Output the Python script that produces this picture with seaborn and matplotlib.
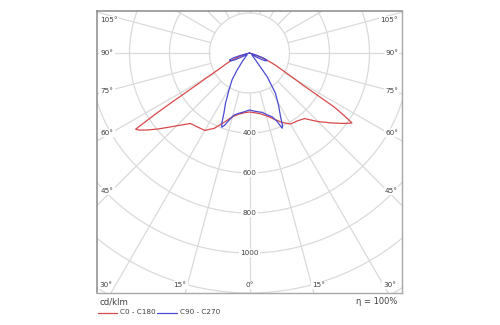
import numpy as np
import pandas as pd
import matplotlib
matplotlib.use("Agg")
import matplotlib.pyplot as plt
from matplotlib.patches import Circle
import seaborn as sns

# Luminous intensity (cd/klm) against gamma angle (degrees from nadir)
gamma_c0 = [0, 5, 10, 15, 20, 25, 30, 35, 40, 45, 50, 53, 55, 55.7, 56.5, 57.5, 59, 60, 62.5, 65, 67.5, 70, 72.5, 75, 90]
cd_c0 = [295, 300, 308, 325, 350, 383, 410, 415, 428, 485, 545, 585, 612, 620, 570, 500, 310, 265, 185, 140, 98, 60, 25, 0, 0]

gamma_c180 = [0, 5, 10, 15, 20, 25, 30, 35, 40, 45, 50, 53, 55, 56.2, 57, 57.5, 58, 59, 60, 62.5, 65, 67.5, 70, 72.5, 75, 90]
cd_c180 = [295, 300, 311, 330, 368, 415, 447, 452, 460, 515, 590, 640, 672, 685, 560, 475, 400, 300, 250, 165, 130, 100, 60, 25, 0, 0]

gamma_c90 = [0, 5, 10, 12, 16, 19.5, 22, 23.5, 24.5, 26, 29, 32.8, 36.7, 40.6, 45, 50, 55, 58, 60, 62, 64, 66, 68, 70, 72, 75, 90]
cd_c90 = [285, 292, 300, 303, 322, 338, 370, 410, 398, 354, 300, 240, 148, 46, 25, 18, 15, 18, 40, 70, 88, 95, 92, 75, 35, 0, 0]

gamma_c270 = [0, 5, 10, 14, 17, 19, 20.5, 21.5, 23, 25.5, 29, 33, 36, 40, 45, 50, 55, 60, 63, 65, 67, 69, 71, 73, 75, 78, 90]
cd_c270 = [285, 295, 306, 320, 352, 382, 396, 378, 328, 279, 212, 160, 105, 57, 30, 18, 15, 20, 45, 80, 100, 106, 104, 85, 45, 0, 0]

plane_labels = ["C0 - C180", "C90 - C270"]
plane_colors = ["#d8494b", "#4a4ad0"]
ring_values = [400, 600, 800, 1000]
side_angle_labels = ["105°", "90°", "75°", "60°", "45°"]
bottom_angle_labels = ["30°", "15°", "0°", "15°", "30°"]


def half_plane_xy(gamma, cd, side):
    g = np.radians(np.asarray(gamma, dtype=float))
    r = np.asarray(cd, dtype=float)
    return side * r * np.sin(g), -r * np.cos(g)


rows = []
pairs = [(gamma_c180, cd_c180, gamma_c0, cd_c0), (gamma_c270, cd_c270, gamma_c90, cd_c90)]
for label, (gl, cl, gr, cr) in zip(plane_labels, pairs):
    xl, yl = half_plane_xy(gl, cl, -1)
    xr, yr = half_plane_xy(gr, cr, 1)
    xs = np.concatenate([xl[::-1], xr])
    ys = np.concatenate([yl[::-1], yr])
    for i, (x, y) in enumerate(zip(xs, ys)):
        rows.append({"plane": label, "order": i, "x": x, "y": y})
df = pd.DataFrame(rows)

sns.set_theme(style="white")
plt.rcParams["font.family"] = ["DejaVu Sans"]

W, H = 500, 325
fig = plt.figure(figsize=(W / 100, H / 100), dpi=100)
fig.patch.set_facecolor("white")

# plot frame in pixels
left_px, right_px, top_px, bottom_px = 96.7, 401.7, 11.0, 292.7
cx_px, cy_px = 249.5, 53.0
scale = 5.0  # cd/klm per pixel

ax = fig.add_axes([left_px / W, 1 - bottom_px / H, (right_px - left_px) / W, (bottom_px - top_px) / H])
ax.set_xlim((left_px - cx_px) * scale, (right_px - cx_px) * scale)
ax.set_ylim(-(bottom_px - cy_px) * scale, (cy_px - top_px) * scale)
ax.set_xticks([])
ax.set_yticks([])

grid_c = "#dadada"
for r in range(200, 2401, 200):
    ax.add_patch(Circle((0, 0), r, fill=False, ec=grid_c, lw=0.9, zorder=1))
for a in range(0, 360, 15):
    t = np.radians(a)
    ax.plot([200 * np.sin(t), 4000 * np.sin(t)], [-200 * np.cos(t), -4000 * np.cos(t)],
            color=grid_c, lw=0.9, zorder=1)

sns.lineplot(data=df, x="x", y="y", hue="plane", palette=plane_colors, hue_order=plane_labels,
             sort=False, estimator=None, units="plane", legend=False, lw=0.9, ax=ax, zorder=3)
ax.set_xlabel("")
ax.set_ylabel("")

for sp in ["left", "top"]:
    ax.spines[sp].set_color("#8a8a8a")
    ax.spines[sp].set_linewidth(1.1)
for sp in ["right", "bottom"]:
    ax.spines[sp].set_color("#a8a8a8")
    ax.spines[sp].set_linewidth(1.0)

txt_c = "#404040"
box = dict(boxstyle="square,pad=0.15", fc="white", ec="none")
for v in ring_values:
    ax.text(0, -v, str(v), ha="center", va="center", fontsize=5.2, color=txt_c, bbox=box, zorder=4)


def px_text(x, y, s, ha="center", size=5.2, bb=True):
    fig.text(x / W, 1 - y / H, s, ha=ha, va="center", fontsize=size, color=txt_c,
             bbox=box if bb else None)


side_y = [20.5, 53.3, 90.5, 133.0, 191.0]
for s, y in zip(side_angle_labels, side_y):
    px_text(100.5, y, s, ha="left")
    px_text(398.0, y, s, ha="right")
bottom_x = [105.5, 180.0, 249.5, 318.5, 389.5]
for s, x in zip(bottom_angle_labels, bottom_x):
    px_text(x, 285.0, s)

# legend block below the frame
px_text(99.5, 302.0, "cd/klm", ha="left", size=6.2, bb=False)
px_text(397.0, 302.0, "η = 100%", ha="right", size=6.0, bb=False)
leg_y = 1 - 312.5 / H
legend_items = [(98.0, 117.0, 120.0), (157.0, 177.0, 180.0)]
for (x0, x1, xt), lab, col in zip(legend_items, plane_labels, plane_colors):
    fig.add_artist(plt.Line2D([x0 / W, x1 / W], [leg_y, leg_y], color=col, lw=0.9))
    px_text(xt, 312.5, lab, ha="left", size=5.2, bb=False)

fig.savefig("out.png", dpi=100, facecolor="white")
